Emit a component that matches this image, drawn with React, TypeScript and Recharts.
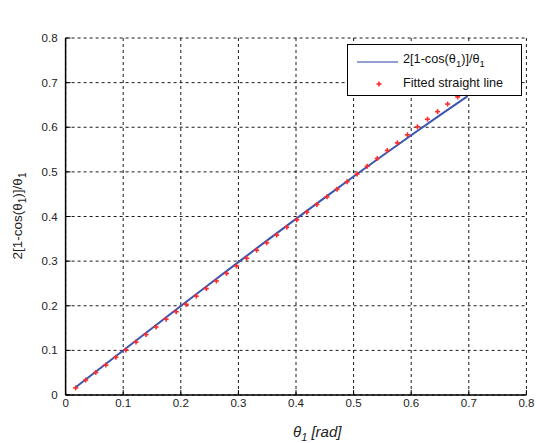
import React from "react";
import { ComposedChart, Line, Scatter, XAxis, YAxis, CartesianGrid, Legend, Label } from "recharts";

const FONT = "Arial, 'Liberation Sans', sans-serif";

// blue curve 2[1-cos(t)]/t
const curveTheta = [0.0175, 0.05, 0.1, 0.15, 0.2, 0.25, 0.3, 0.35, 0.4, 0.45, 0.5, 0.55, 0.6, 0.65, 0.698];
const curveValues = [0.0175, 0.05, 0.0999, 0.1497, 0.1993, 0.2487, 0.2978, 0.3464, 0.3947, 0.4424, 0.4896, 0.5361, 0.582, 0.6271, 0.6697];

// red points (1 deg steps)
const fitTheta = [
  0.0175, 0.0349, 0.0524, 0.0698, 0.0873, 0.1047, 0.1222, 0.1396, 0.1571, 0.1745,
  0.192, 0.2094, 0.2269, 0.2443, 0.2618, 0.2793, 0.2967, 0.3142, 0.3316, 0.3491,
  0.3665, 0.384, 0.4014, 0.4189, 0.4363, 0.4538, 0.4712, 0.4887, 0.5061, 0.5236,
  0.5411, 0.5585, 0.576, 0.5934, 0.6109, 0.6283, 0.6458, 0.6632, 0.6807, 0.6981,
];
const fitValues = [
  0.016, 0.0335, 0.0505, 0.067, 0.0845, 0.101, 0.1185, 0.1355, 0.1525, 0.17,
  0.1865, 0.203, 0.2215, 0.2385, 0.2555, 0.2725, 0.289, 0.3065, 0.3245, 0.341,
  0.3585, 0.376, 0.3925, 0.4095, 0.427, 0.444, 0.461, 0.478, 0.495, 0.5125,
  0.53, 0.548, 0.565, 0.583, 0.601, 0.618, 0.635, 0.652, 0.668, 0.684,
];

const ticks = [0, 0.1, 0.2, 0.3, 0.4, 0.5, 0.6, 0.7, 0.8];

const curveData = curveTheta.map((t, i) => ({ t, v: curveValues[i] }));
const fitData = fitTheta.map((t, i) => ({ t, v: fitValues[i] }));

const fmt = (v: number) => (v === 0 ? "0" : v.toFixed(1));
const tickStyle = { fontSize: 11.5, fill: "#222", fontFamily: FONT };

const Plus = (props: any) => {
  const { cx, cy } = props;
  return (
    <g stroke="#ff2a2a" strokeWidth={1.6}>
      <line x1={cx - 2.5} y1={cy} x2={cx + 2.5} y2={cy} />
      <line x1={cx} y1={cy - 2.5} x2={cx} y2={cy + 2.5} />
    </g>
  );
};

const renderLegend = () => (
  <div
    style={{
      width: 175,
      height: 52,
      border: "1.5px solid #000",
      background: "#fff",
      boxSizing: "border-box",
      position: "relative",
      fontFamily: FONT,
      fontSize: 12.7,
      color: "#111",
    }}
  >
    <svg width={50} height={50} style={{ position: "absolute", left: 0, top: 0 }}>
      <line x1={9} y1={17} x2={50} y2={17} stroke="#6f7fc4" strokeWidth={1.5} />
      <Plus cx={31} cy={39} />
    </svg>
    <div style={{ position: "absolute", left: 55, top: 7 }}>
      2[1-cos(θ<sub style={{ fontSize: 9.5 }}>1</sub>)]/θ<sub style={{ fontSize: 9.5 }}>1</sub>
    </div>
    <div style={{ position: "absolute", left: 55, top: 31 }}>Fitted straight line</div>
  </div>
);

export default function App() {
  return (
    <div style={{ position: "absolute", left: 0, top: 0, background: "#fff" }}>
      <ComposedChart width={537} height={443} margin={{ top: 38, right: 10.6, bottom: 0, left: 0 }}>
        <CartesianGrid stroke="#000" strokeDasharray="3 3" strokeWidth={0.9} />
        <XAxis
          dataKey="t"
          type="number"
          domain={[0, 0.8]}
          ticks={ticks}
          tickFormatter={fmt}
          height={48}
          tickSize={-5}
          tickMargin={9}
          tick={tickStyle}
          stroke="#000"
          axisLine={{ stroke: "#000", strokeWidth: 1.5 }}
          tickLine={{ stroke: "#000" }}
        >
          <Label
            content={() => (
              <text x={293} y={437} fontFamily={FONT} fontStyle="italic" fontSize={15} fill="#222">
                θ<tspan dy={4} fontSize={11}>1</tspan>
                <tspan dy={-4}> [rad]</tspan>
              </text>
            )}
          />
        </XAxis>
        <XAxis
          xAxisId="top"
          orientation="top"
          type="number"
          domain={[0, 0.8]}
          ticks={ticks}
          tickFormatter={() => ""}
          height={0}
          tickSize={-5}
          axisLine={{ stroke: "#000", strokeWidth: 1.5 }}
          tickLine={{ stroke: "#000" }}
        >
          <Label
            content={() => (
              <text x={295} y={24} textAnchor="middle" fontFamily={FONT} fontStyle="italic" fontSize={15} fill="#111">
                Straight Line Fitting
              </text>
            )}
          />
        </XAxis>
        <YAxis
          type="number"
          domain={[0, 0.8]}
          ticks={ticks}
          tickFormatter={fmt}
          width={65.6}
          tickSize={-5}
          tickMargin={13}
          tick={tickStyle}
          axisLine={{ stroke: "#000", strokeWidth: 1.5 }}
          tickLine={{ stroke: "#000" }}
        >
          <Label
            content={() => (
              <text
                x={0}
                y={0}
                transform="translate(22,216) rotate(-90)"
                textAnchor="middle"
                fontFamily={FONT}
                fontSize={13.5}
                fill="#222"
              >
                2[1-cos(θ<tspan dy={4} fontSize={10}>1</tspan>
                <tspan dy={-4}>)]/θ</tspan>
                <tspan dy={4} fontSize={10}>1</tspan>
              </text>
            )}
          />
        </YAxis>
        <YAxis
          yAxisId="right"
          orientation="right"
          type="number"
          domain={[0, 0.8]}
          ticks={ticks}
          tickFormatter={() => ""}
          width={0}
          tickSize={-5}
          axisLine={{ stroke: "#000", strokeWidth: 1.5 }}
          tickLine={{ stroke: "#000" }}
        />
        <Line
          data={curveData}
          dataKey="v"
          type="linear"
          stroke="#3a56b0"
          strokeWidth={2}
          dot={false}
          isAnimationActive={false}
        />
        <Scatter data={fitData} dataKey="v" shape={<Plus />} isAnimationActive={false} />
        <Legend
          layout="horizontal"
          verticalAlign="middle"
          align="center"
          content={renderLegend}
          wrapperStyle={{ left: 347, top: 44, width: 175, height: 52 }}
        />
      </ComposedChart>
    </div>
  );
}
